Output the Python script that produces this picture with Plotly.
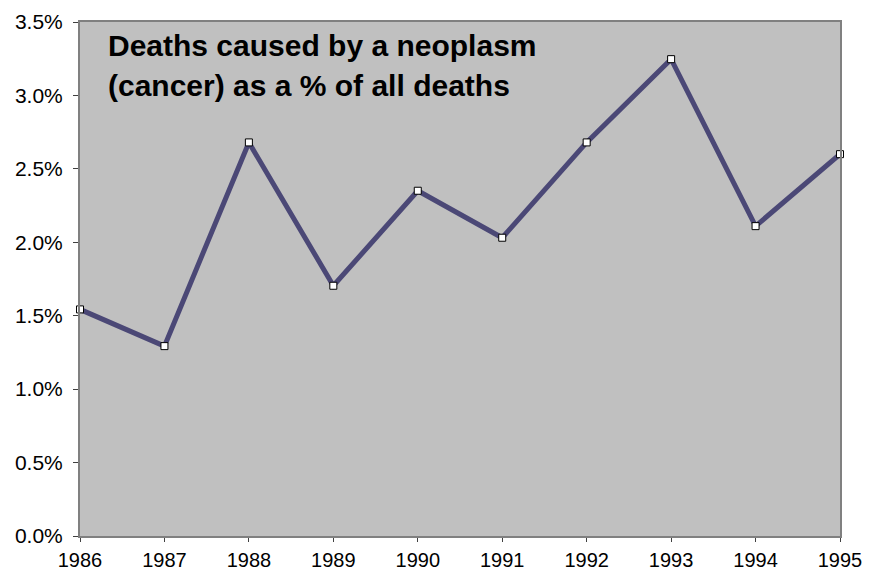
import plotly.graph_objects as go

years = [1986, 1987, 1988, 1989, 1990, 1991, 1992, 1993, 1994, 1995]
pct_deaths = [0.01543, 0.01293, 0.02680, 0.01704, 0.02351, 0.02031, 0.02680, 0.03247, 0.02110, 0.02600]
title_lines = ["Deaths caused by a neoplasm", "(cancer) as a % of all deaths"]

FONT = "Liberation Sans, Arial, sans-serif"

fig = go.Figure()
fig.add_trace(go.Scatter(
    x=years, y=pct_deaths, mode="lines+markers",
    line=dict(color="#4b4876", width=5),
    marker=dict(symbol="square", size=7, color="white", line=dict(color="black", width=1)),
    cliponaxis=False, showlegend=False,
))

fig.add_annotation(x=0.034, y=0.955, xref="paper", yref="paper", text="<b>" + title_lines[0] + "</b>",
                   showarrow=False, xanchor="left", yanchor="middle",
                   font=dict(family=FONT, size=30, color="black"))
fig.add_annotation(x=0.034, y=0.8765, xref="paper", yref="paper", text="<b>" + title_lines[1] + "</b>",
                   showarrow=False, xanchor="left", yanchor="middle",
                   font=dict(family=FONT, size=30, color="black"))

fig.update_layout(
    width=867, height=565,
    margin=dict(l=72, r=35, t=14, b=37),
    paper_bgcolor="white", plot_bgcolor="#c0c0c0",
    font=dict(family=FONT, size=21, color="black"),
)
fig.update_xaxes(
    range=[1986, 1995], tickmode="array", tickvals=years, ticktext=[str(y) for y in years],
    showgrid=False, zeroline=False, showline=True, linecolor="#808080", linewidth=2, mirror=True,
    ticks="outside", ticklen=4, tickcolor="#404040", tickwidth=1, automargin=False,
    ticklabelstandoff=1, tickfont=dict(size=20),
)
fig.update_yaxes(
    range=[0, 0.035], dtick=0.005, tickformat=".1%",
    showgrid=False, zeroline=False, showline=True, linecolor="#808080", linewidth=2, mirror=True,
    ticks="outside", ticklen=5, tickcolor="#404040", tickwidth=1, automargin=False,
    ticklabelstandoff=6,
)

fig.write_html("out.html")
